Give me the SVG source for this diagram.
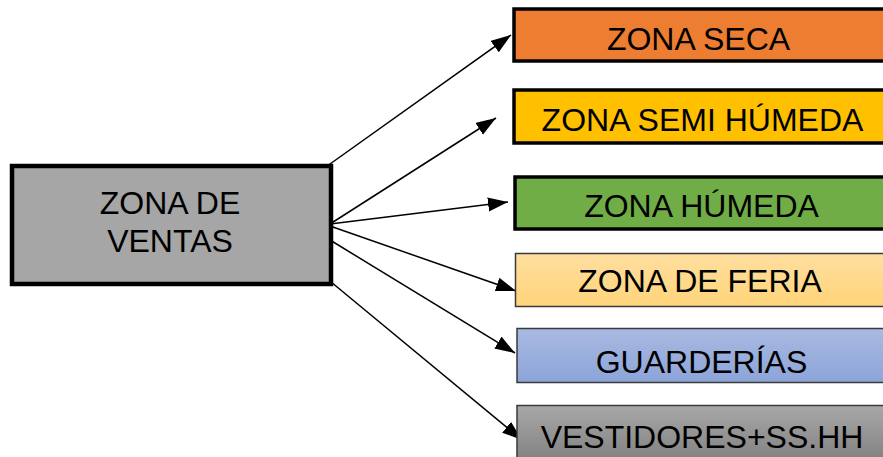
<svg xmlns="http://www.w3.org/2000/svg" width="883" height="457" viewBox="0 0 883 457">
  <style>
    .lbl { font-family: "Liberation Sans", Arial, sans-serif; font-size: 32px; fill: #000; text-anchor: middle; }
    .thick { stroke: #000; stroke-width: 3.5; }
    .thin { stroke: #3a3a3a; stroke-width: 1.5; }
    .conn { stroke: #000; stroke-width: 1.5; fill: none; marker-end: url(#arrow); }
  </style>
  <defs>
    <marker id="arrow" markerUnits="userSpaceOnUse" markerWidth="22" markerHeight="16" refX="20" refY="7" orient="auto">
      <path d="M0,0 L20,7 L0,14 Z" fill="#000"/>
    </marker>
    <linearGradient id="gFeria" x1="0" y1="0" x2="0" y2="1">
      <stop offset="0" stop-color="#FFDF9F"/>
      <stop offset="1" stop-color="#FFD47A"/>
    </linearGradient>
    <linearGradient id="gGuard" x1="0" y1="0" x2="0" y2="1">
      <stop offset="0" stop-color="#AABAE2"/>
      <stop offset="1" stop-color="#8BA4D8"/>
    </linearGradient>
    <linearGradient id="gVest" x1="0" y1="0" x2="0" y2="1">
      <stop offset="0" stop-color="#A8A8A8"/>
      <stop offset="1" stop-color="#7E7E7E"/>
    </linearGradient>
  </defs>

  <rect width="883" height="457" fill="#fff"/>

  <!-- connectors from the sales area to each zone -->
  <g id="connectors">
    <line class="conn" x1="323" y1="169" x2="511" y2="35"/>
    <line class="conn" x1="330" y1="224" x2="496" y2="118"/>
    <line class="conn" x1="330" y1="224" x2="508" y2="202"/>
    <line class="conn" x1="330" y1="226" x2="516" y2="291"/>
    <line class="conn" x1="330" y1="240" x2="515" y2="353"/>
    <line class="conn" x1="325" y1="277" x2="522" y2="440"/>
  </g>

  <g id="zona-ventas">
    <rect x="12" y="166" width="319" height="118" fill="#A6A6A6" stroke="#000" stroke-width="4.5"/>
    <text class="lbl" x="170" y="214">ZONA DE</text>
    <text class="lbl" x="170" y="252">VENTAS</text>
  </g>

  <g id="zona-seca">
    <rect class="thick" x="514" y="9" width="380" height="52" fill="#ED7D31"/>
    <text class="lbl" x="698.5" y="50">ZONA SECA</text>
  </g>

  <g id="zona-semi-humeda">
    <rect class="thick" x="514" y="90" width="380" height="53" fill="#FFC000"/>
    <text class="lbl" x="702.5" y="131">ZONA SEMI HÚMEDA</text>
  </g>

  <g id="zona-humeda">
    <rect class="thick" x="515" y="177" width="380" height="52" fill="#70AD47"/>
    <text class="lbl" x="701.5" y="217">ZONA HÚMEDA</text>
  </g>

  <g id="zona-feria">
    <rect class="thin" x="515.5" y="253.5" width="380" height="53" fill="url(#gFeria)"/>
    <text class="lbl" x="700" y="292">ZONA DE FERIA</text>
  </g>

  <g id="guarderias">
    <rect class="thin" x="517" y="328.5" width="380" height="54" fill="url(#gGuard)"/>
    <text class="lbl" x="701.5" y="373">GUARDERÍAS</text>
  </g>

  <g id="vestidores">
    <rect class="thin" x="517" y="405.5" width="380" height="60" fill="url(#gVest)"/>
    <text class="lbl" x="702" y="448">VESTIDORES+SS.HH</text>
  </g>
</svg>
